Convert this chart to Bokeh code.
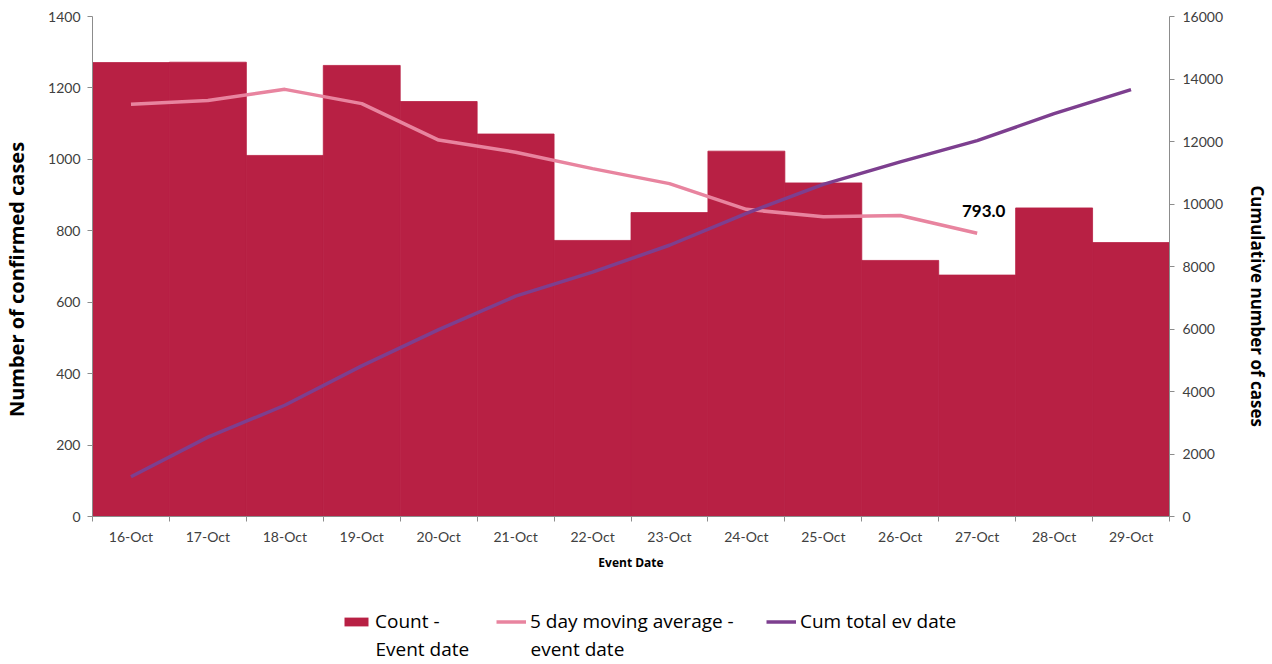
from bokeh.plotting import figure
from bokeh.layouts import column
from bokeh.models import Range1d, LinearAxis, FixedTicker, Legend, LegendItem, ColumnDataSource, Label
from bokeh.core.properties import value
from bokeh.embed import file_html
from bokeh.resources import INLINE

dates = ["16-Oct", "17-Oct", "18-Oct", "19-Oct", "20-Oct", "21-Oct", "22-Oct",
         "23-Oct", "24-Oct", "25-Oct", "26-Oct", "27-Oct", "28-Oct", "29-Oct"]
counts = [1271, 1272, 1011, 1263, 1162, 1071, 773, 851, 1023, 934, 717, 676, 864, 767]
moving_avg = [1154, 1165, 1196, 1156, 1054, 1020, 974, 932, 860, 839, 843, 793.0]
cum_total = [1270, 2540, 3560, 4820, 5980, 7050, 7820, 8680, 9700, 10630, 11350, 12030, 12890, 13660]
left_ticks = [0, 200, 400, 600, 800, 1000, 1200, 1400]
right_ticks = [0, 2000, 4000, 6000, 8000, 10000, 12000, 14000, 16000]
legend_first = ["Count -", "5 day moving average -", "Cum total ev date"]
legend_second = ["Event date", "event date", ""]

FONT = "Lato"
TFONT = "Open Sans"
BAR = "#B82044"
PINK = "#E8849F"
PURPLE = "#7D3F8F"
TICK_COLOR = "#404040"
AXIS_COLOR = "#8C8C8C"
NB = "\u00a0"

xs = [i + 0.5 for i in range(len(dates))]
bar_src = ColumnDataSource(dict(x=xs, top=counts, date=dates))
ma_src = ColumnDataSource(dict(x=xs[:len(moving_avg)], y=moving_avg))
cum_src = ColumnDataSource(dict(x=xs, y=cum_total))

p = figure(width=1272, height=590, x_range=Range1d(0, len(dates)), y_range=Range1d(0, 1400),
           output_backend="svg", toolbar_location=None,
           min_border_left=92, min_border_right=100, min_border_top=16, min_border_bottom=74)
p.extra_y_ranges = {"cum": Range1d(0, 16000)}
p.outline_line_color = None
p.xgrid.visible = False
p.ygrid.visible = False

bars = p.vbar(x="x", top="top", width=1.0, source=bar_src, fill_color=BAR,
              line_color=BAR, line_width=0.8)
ma = p.line("x", "y", source=ma_src, line_color=PINK, line_width=3.5)
cum = p.line("x", "y", source=cum_src, line_color=PURPLE, line_width=3.5, y_range_name="cum")

last_x = ma_src.data["x"][-1]
last_y = moving_avg[-1]
p.text(x=[last_x], y=[last_y], text=[f"{last_y:.1f}"], x_offset=6.5, y_offset=-16,
       text_align="center", text_baseline="bottom", text_font=value(FONT),
       text_font_size="17px", text_font_style="bold", text_color="#000000")

# x axis
xa = p.xaxis[0]
xa.ticker = FixedTicker(ticks=xs, minor_ticks=list(range(len(dates) + 1)))
xa.major_label_overrides = {x: d for x, d in zip(xs, dates)}
xa.major_tick_out = 0
xa.major_tick_in = 0
xa.minor_tick_out = 5
xa.minor_tick_in = 0
xa.minor_tick_line_color = AXIS_COLOR
xa.axis_line_color = AXIS_COLOR
xa.major_label_text_font = FONT
xa.major_label_text_font_size = "14px"
xa.major_label_text_color = TICK_COLOR
xa.major_label_standoff = 6
xa.axis_label = "Event Date"
xa.axis_label_text_font = TFONT
xa.axis_label_text_font_size = "12px"
xa.axis_label_text_font_style = "bold"
xa.axis_label_text_color = "#000000"
xa.axis_label_standoff = 6

# left axis
ya = p.yaxis[0]
ya.ticker = FixedTicker(ticks=left_ticks)
ya.major_tick_out = 5
ya.major_tick_in = 0
ya.minor_tick_out = 0
ya.minor_tick_in = 0
ya.axis_line_color = AXIS_COLOR
ya.major_tick_line_color = AXIS_COLOR
ya.major_label_text_font = FONT
ya.major_label_text_font_size = "14px"
ya.major_label_text_color = TICK_COLOR
ya.major_label_standoff = 7
ya.axis_label = "Number of confirmed cases" + NB * 5
ya.axis_label_text_font = TFONT
ya.axis_label_text_font_size = "20px"
ya.axis_label_text_font_style = "bold"
ya.axis_label_text_color = "#000000"
ya.axis_label_standoff = 15

ra = LinearAxis(y_range_name="cum", ticker=FixedTicker(ticks=right_ticks))
ra.major_tick_out = 5
ra.major_tick_in = 0
ra.minor_tick_out = 0
ra.minor_tick_in = 0
ra.axis_line_color = AXIS_COLOR
ra.major_tick_line_color = AXIS_COLOR
ra.major_label_text_font = FONT
ra.major_label_text_font_size = "14px"
ra.major_label_text_color = TICK_COLOR
ra.major_label_standoff = 8
ra.axis_label = NB * 18 + "Cumulative number of cases"
ra.axis_label_text_font = TFONT
ra.axis_label_text_font_size = "17px"
ra.axis_label_text_font_style = "bold"
ra.axis_label_text_color = "#000000"
ra.axis_label_standoff = 20
p.add_layout(ra, "right")

# legend strip below the chart (its frame is aligned with the chart's frame)
FRAME_LEFT = 92
lp = figure(width=1272, height=74, x_range=Range1d(100, 101), y_range=Range1d(1e5, 1e5 + 1),
            output_backend="svg", toolbar_location=None, min_border=0,
            x_axis_location=None, y_axis_location=None)
lp.outline_line_color = None
lp.xgrid.visible = False
lp.ygrid.visible = False
lg_bar = lp.vbar(x="x", top="top", width=1.0, source=bar_src, fill_color=BAR, line_color=None)
lg_ma = lp.line("x", "y", source=ma_src, line_color=PINK, line_width=3.5)
lg_cum = lp.line("x", "y", source=cum_src, line_color=PURPLE, line_width=3.5)

legend_x = [341, 496, 766]
for rend, first, second, lx in zip([lg_bar, lg_ma, lg_cum], legend_first, legend_second, legend_x):
    lg = Legend(items=[LegendItem(label=first, renderers=[rend])], location=(lx - FRAME_LEFT, 30))
    lg.label_text_font = TFONT
    lg.label_text_font_size = "19px"
    lg.label_text_color = "#000000"
    lg.glyph_width = 30
    lg.glyph_height = 11
    lg.label_standoff = 4
    lg.border_line_color = None
    lg.background_fill_alpha = 0
    lg.padding = 0
    lg.margin = 0
    lp.add_layout(lg, "center")
    if second:
        lp.add_layout(Label(x=lx + 34 - FRAME_LEFT, y=16, x_units="screen", y_units="screen",
                            text=second, text_font=TFONT, text_font_size="19px",
                            text_color="#000000", text_baseline="middle", text_align="left"))

layout = column(p, lp, spacing=0)
open("out.html", "w").write(file_html(layout, INLINE))
